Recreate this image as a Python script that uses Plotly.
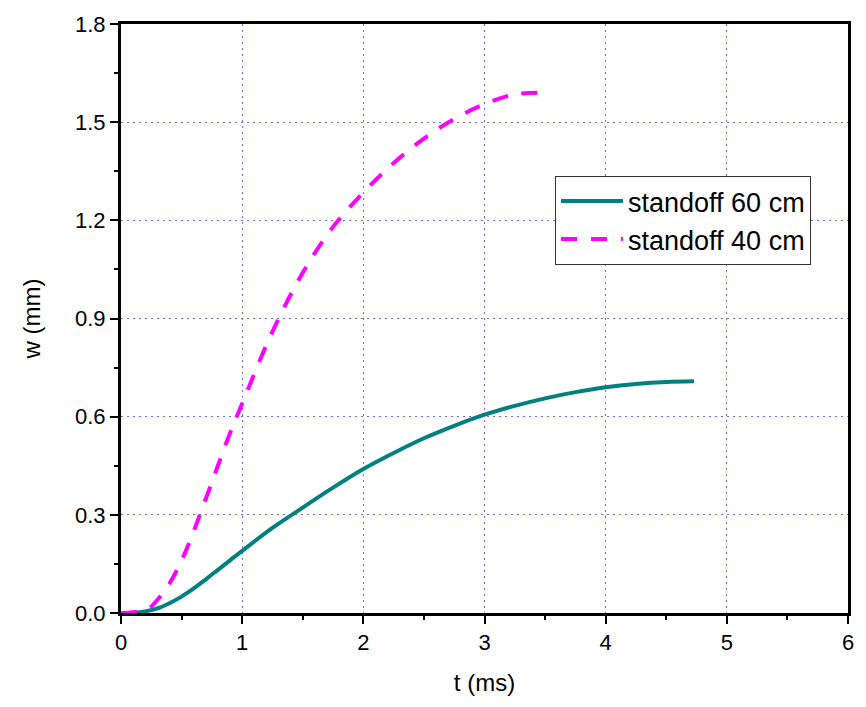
import plotly.graph_objects as go

t60 = [0.0, 0.1, 0.2, 0.3, 0.4, 0.5, 0.6, 0.7, 0.8, 0.9, 1.0, 1.25, 1.5, 1.75, 2.0, 2.25, 2.5, 2.75, 3.0, 3.25, 3.5, 3.75, 4.0, 4.25, 4.5, 4.73]
w60 = [0.0, 0.001, 0.005, 0.014, 0.03, 0.05, 0.075, 0.103, 0.132, 0.161, 0.19, 0.26, 0.322, 0.383, 0.44, 0.489, 0.534, 0.572, 0.606, 0.633, 0.656, 0.675, 0.69, 0.70, 0.706, 0.708]

t40 = [0.0, 0.1, 0.2, 0.25, 0.3, 0.4, 0.5, 0.6, 0.75, 0.9, 1.0, 1.25, 1.5, 1.75, 2.0, 2.25, 2.5, 2.75, 3.0, 3.25, 3.45]
w40 = [0.0, 0.002, 0.01, 0.02, 0.04, 0.09, 0.16, 0.25, 0.40, 0.55, 0.64, 0.86, 1.04, 1.18, 1.285, 1.375, 1.45, 1.51, 1.555, 1.585, 1.59]

FONT = "Arial, Liberation Sans, sans-serif"

fig = go.Figure()
fig.add_trace(go.Scatter(x=t60, y=w60, mode="lines", name="standoff 60 cm",
                         line=dict(color="#008080", width=4, shape="spline")))
fig.add_trace(go.Scatter(x=t40, y=w40, mode="lines", name="standoff 40 cm",
                         line=dict(color="#ff00ff", width=4, dash="16px,14px", shape="spline")))

axis_common = dict(
    showline=True, linecolor="black", linewidth=3, mirror=True,
    ticks="outside", ticklen=8, tickwidth=2, tickcolor="black",
    showgrid=True, gridcolor="#6a6aff", gridwidth=1, griddash="2px,4px",
    zeroline=False,
    tickfont=dict(family=FONT, size=22, color="black"),
)

fig.update_xaxes(range=[0, 6], dtick=1,
                 title=dict(text="t (ms)", font=dict(family=FONT, size=24, color="black"), standoff=20),
                 minor=dict(ticks="outside", ticklen=4, tickwidth=2, tickcolor="black", dtick=0.5, showgrid=False),
                 **axis_common)
fig.update_yaxes(range=[0, 1.8], dtick=0.3, tickformat=".1f",
                 title=dict(text="w (mm)", font=dict(family=FONT, size=24, color="black"), standoff=28),
                 minor=dict(ticks="outside", ticklen=4, tickwidth=2, tickcolor="black", dtick=0.15, showgrid=False),
                 **axis_common)

fig.update_layout(
    width=866, height=707,
    margin=dict(l=121, r=13, t=19, b=94),
    paper_bgcolor="white", plot_bgcolor="white",
    showlegend=True,
    legend=dict(x=0.597, y=0.742, xanchor="left", yanchor="top",
                bordercolor="#333333", borderwidth=1, bgcolor="white",
                font=dict(family=FONT, size=27, color="black"),
                itemwidth=62, tracegroupgap=0),
)

fig.write_html("out.html")
